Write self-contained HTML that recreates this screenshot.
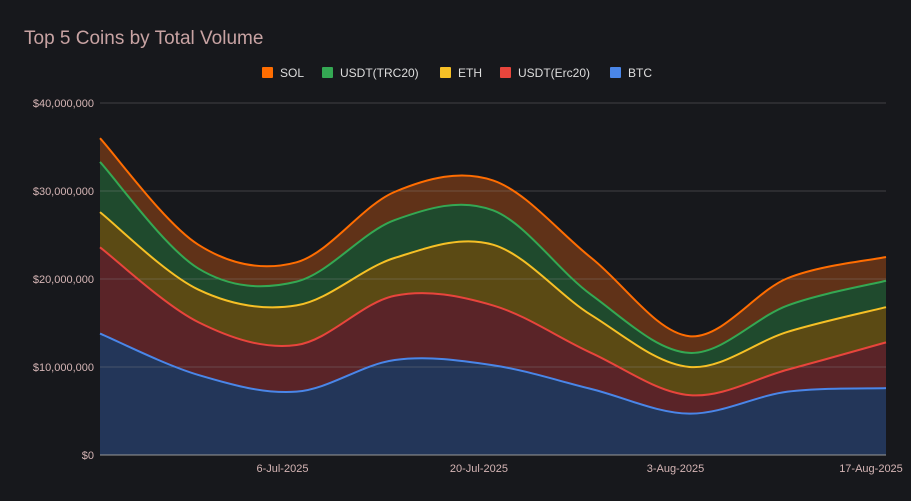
<!DOCTYPE html>
<html><head><meta charset="utf-8">
<style>
html,body{margin:0;padding:0;background:#17181c;}
svg{display:block;font-family:"Liberation Sans",Arial,sans-serif;}
</style></head>
<body>
<svg id="chart" width="911" height="501">
  <rect width="911" height="501" fill="#17181c"/>
  <text x="24" y="44" font-size="19" fill="#c8a3a3">Top 5 Coins by Total Volume</text>
  <g id="areas"></g>
  <g id="grid"></g>
  <g id="lines"></g>
  <g id="yaxis"></g>
  <g id="xaxis"></g>
  <g id="legend"></g>
</svg>
<script>
const dates = ["2025-06-23","2025-06-30","2025-07-07","2025-07-14","2025-07-21","2025-07-28","2025-08-04","2025-08-11","2025-08-18"];
const seriesNames = ["BTC","USDT(Erc20)","ETH","USDT(TRC20)","SOL"];
const btc =    [13.8, 9.1, 7.2, 10.8, 10.2, 7.5, 4.7, 7.2, 7.6];
const usdtErc =[9.8, 6.0, 5.3, 7.3, 6.8, 4.1, 2.1, 2.5, 5.2];
const eth =    [4.0, 3.7, 4.5, 4.3, 6.9, 4.3, 3.2, 4.3, 4.0];
const usdtTrc =[5.7, 2.4, 2.7, 4.3, 3.9, 2.3, 1.6, 3.0, 3.0];
const sol =    [2.7, 2.7, 2.2, 3.2, 3.4, 4.2, 1.9, 3.1, 2.7];
const yTicks = [0, 10, 20, 30, 40];
const yTickLabels = ["$0","$10,000,000","$20,000,000","$30,000,000","$40,000,000"];
const xTickDates = ["2025-07-06","2025-07-20","2025-08-03","2025-08-17"];
const xTickLabels = ["6-Jul-2025","20-Jul-2025","3-Aug-2025","17-Aug-2025"];

const lineColors = ["#4a86e8","#e8453c","#f6c026","#34a853","#ff6d01"];
const fillColors = ["#233659","#5a2428","#5b4a14","#1f4a2d","#603218"];
const legendOrder = [4,3,2,1,0];

const NS="http://www.w3.org/2000/svg";
const L=100,R=886,T=103,B=455;
const t0=Date.parse(dates[0]), t1=Date.parse(dates[dates.length-1]);
function xs(d){return L+(Date.parse(d)-t0)/(t1-t0)*(R-L);}
function ys(v){return B-(v/40)*(B-T);}
function mk(tag,attrs,parent){const e=document.createElementNS(NS,tag);for(const k in attrs)e.setAttribute(k,attrs[k]);parent.appendChild(e);return e;}

const raw=[btc,usdtErc,eth,usdtTrc,sol];
const cum=[];let acc=dates.map(()=>0);
raw.forEach(s=>{acc=acc.map((a,i)=>a+s[i]);cum.push(acc.slice());});

function smooth(pts){
  let d="M"+pts[0][0]+","+pts[0][1];
  for(let i=0;i<pts.length-1;i++){
    const p0=pts[Math.max(0,i-1)],p1=pts[i],p2=pts[i+1],p3=pts[Math.min(pts.length-1,i+2)];
    const k=1/6;
    const c1=[p1[0]+(p2[0]-p0[0])*k,p1[1]+(p2[1]-p0[1])*k];
    const c2=[p2[0]-(p3[0]-p1[0])*k,p2[1]-(p3[1]-p1[1])*k];
    d+=" C"+c1[0]+","+c1[1]+" "+c2[0]+","+c2[1]+" "+p2[0]+","+p2[1];
  }
  return d;
}

const grid=document.getElementById('grid'),yaxis=document.getElementById('yaxis');
yTicks.forEach((v,i)=>{
  const g=mk('line',{x1:L,x2:R,y1:ys(v),y2:ys(v),stroke:v===0?'#999':'rgba(140,140,140,0.35)','stroke-width':1},grid);
  
  
  const t=mk('text',{x:94,y:ys(v)+4,'text-anchor':'end','font-size':11,fill:'#d5b5b5'},yaxis);
  t.textContent=yTickLabels[i];
  
  
});

const areas=document.getElementById('areas'),lines=document.getElementById('lines');
for(let s=cum.length-1;s>=0;s--){
  const top=dates.map((d,i)=>[xs(d),ys(cum[s][i])]);
  const a=mk('path',{d:smooth(top)+" L"+R+","+B+" L"+L+","+B+" Z",fill:fillColors[s]},areas);
  
  
}
for(let s=0;s<cum.length;s++){
  const top=dates.map((d,i)=>[xs(d),ys(cum[s][i])]);
  const l=mk('path',{d:smooth(top),fill:'none',stroke:lineColors[s],'stroke-width':2},lines);
  
  
}

const xaxis=document.getElementById('xaxis');
xTickDates.forEach((d,i)=>{
  let x=xs(d);
  const t=mk('text',{x:Math.min(x,871),y:472,'text-anchor':'middle','font-size':11,fill:'#d5b5b5'},xaxis);
  t.textContent=xTickLabels[i];
  
  
});

const legend=document.getElementById('legend');
const lx=[262,322,440,500,610];
legendOrder.forEach((s,j)=>{
  const r=mk('rect',{x:lx[j],y:67,width:11,height:11,fill:lineColors[s],rx:1},legend);
  
  
  const t=mk('text',{x:lx[j]+18,y:77,'font-size':12,fill:'#dddddd'},legend);
  t.textContent=seriesNames[s];
  
  
});
</script>
</body></html>
